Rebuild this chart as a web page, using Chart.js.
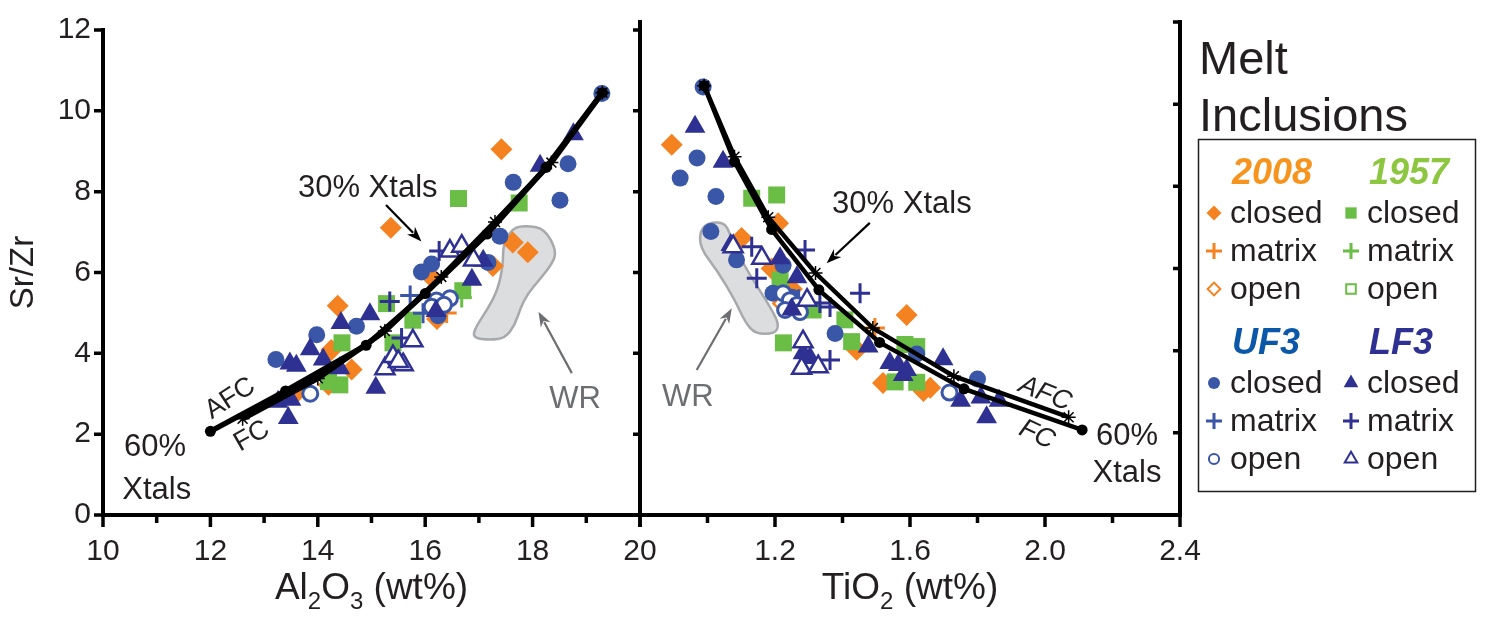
<!DOCTYPE html>
<html lang="en">
<head>
<meta charset="utf-8" />
<title>Sr/Zr vs Al2O3 and TiO2</title>
<script src="https://cdn.jsdelivr.net/npm/chart.js@4.4.4/dist/chart.umd.min.js"></script>
<style>
  html, body { margin: 0; padding: 0; background: #fff; overflow: hidden; }
  #wrap { position: relative; width: 1485px; height: 623px; }
  #left { position: absolute; left: 0; top: 0; }
  #right { position: absolute; left: 580px; top: 0; }
</style>
</head>
<body>
<div id="wrap">
  <canvas id="left" width="700" height="623"></canvas>
  <canvas id="right" width="905" height="623"></canvas>
</div>
<script>
// ---- axes ----
const srzrTicks = [0, 2, 4, 6, 8, 10, 12];
const alTicks = [10, 12, 14, 16, 18, 20];
const alMinor = [11, 13, 15, 17, 19];
const tiTicks = [0.8, 1.2, 1.6, 2.0, 2.4];
const tiMinor = [1.0, 1.4, 1.8, 2.2];

// ---- Al2O3 panel: melt inclusions [Al2O3, Sr/Zr] ----
const al2008Closed = [[13.62,3.05],[14.2,3.22],[14.25,4.08],[14.37,5.18],[14.63,3.6],[15.36,7.11],[16.12,5.88],[16.22,4.85],[17.26,6.16],[17.42,9.05],[17.63,6.74],[17.91,6.5]];
const al2008Matrix = [[16.4,5.0]];
const al2008Open = [[16.28,5.2]];
const al1957Closed = [[16.62,7.83],[17.75,7.72],[16.7,5.55],[15.28,5.23],[15.77,4.82],[15.4,4.26],[14.45,4.26],[14.2,3.3],[14.41,3.22]];
const al1957Matrix = [[16.68,5.38]];
const al1957Open = [];
const alUf3Closed = [[19.29,10.43],[18.66,8.69],[17.64,8.23],[18.51,7.79],[17.39,6.9],[17.17,6.25],[15.93,6.01],[16.12,6.21],[14.72,4.67],[13.98,4.46],[13.22,3.85],[16.24,4.93]];
const alUf3Matrix = [[15.72,5.43],[15.96,4.99]];
const alUf3Open = [[16.21,5.31],[16.46,5.36],[16.24,5.07],[16.12,5.15],[13.86,3.0],[16.35,5.2]];
const alLf3Closed = [[18.76,9.42],[18.14,8.64],[17.08,6.29],[16.87,5.82],[14.97,4.97],[14.43,4.75],[13.86,4.1],[13.48,3.75],[13.6,3.69],[14.41,3.63],[14.1,3.85],[15.08,3.15],[13.26,2.8],[13.5,2.85],[13.45,2.4],[16.2,5.05]];
const alLf3Matrix = [[16.26,6.53],[15.34,5.28],[15.56,4.38]];
const alLf3Open = [[16.46,6.53],[16.68,6.65],[16.9,6.31],[15.77,4.31],[15.25,3.62],[15.4,3.92],[15.59,3.72],[15.5,3.8]];

// crystallisation models, 0 -> 60 % crystals
const alFc = [[12.0,2.07],[13.4,3.07],[14.9,4.2],[16.0,5.48],[17.15,6.95],[18.25,8.6],[19.3,10.45]];
const alAfc = [[12.6,2.38],[14.0,3.38],[15.25,4.55],[16.3,5.89],[17.3,7.25],[18.35,8.72],[19.3,10.45]];
// whole-rock field outline
const alWr = [[17.63,7.11],[17.90,7.16],[18.23,7.08],[18.45,6.52],[18.36,6.21],[18.14,5.84],[17.91,5.48],[17.77,5.11],[17.67,4.70],[17.49,4.38],[17.21,4.33],[16.89,4.38],[16.93,4.63],[17.17,5.11],[17.36,5.60],[17.45,6.21],[17.45,6.69]];

// ---- TiO2 panel: melt inclusions [TiO2, Sr/Zr] ----
const ti2008Closed = [[0.894,9.01],[1.209,7.1],[1.101,6.74],[1.19,6.0],[1.59,4.87],[1.442,4.02],[1.52,3.21],[1.64,3.02],[1.66,3.1],[1.25,5.5],[1.235,5.3],[1.224,5.55]];
const ti2008Matrix = [[1.496,4.55],[1.24,5.2]];
const ti2008Open = [[1.225,5.15]];
const ti1957Closed = [[1.131,7.71],[1.205,7.79],[1.215,5.72],[1.225,4.19],[1.427,4.22],[1.585,4.15],[1.556,3.24],[1.62,3.23],[1.313,4.99],[1.62,4.1],[1.407,4.75]];
const ti1957Matrix = [[1.28,5.05]];
const ti1957Open = [];
const tiUf3Closed = [[0.987,10.42],[0.969,8.69],[0.919,8.2],[1.025,7.75],[1.01,6.9],[1.086,6.21],[1.224,6.08],[1.378,4.42],[1.62,3.92],[1.80,3.31],[1.25,5.3],[1.194,5.4]];
const tiUf3Matrix = [[1.27,5.25]];
const tiUf3Open = [[1.224,5.4],[1.244,5.23],[1.265,5.11],[1.23,4.99],[1.274,4.94],[1.717,2.98]];
const tiLf3Closed = [[0.963,9.45],[1.046,8.6],[1.069,6.57],[1.215,6.25],[1.265,5.79],[1.283,3.94],[1.304,3.82],[1.476,4.1],[1.54,3.7],[1.565,3.65],[1.59,3.53],[1.58,3.41],[1.698,3.79],[1.75,2.78],[1.81,2.86],[1.864,2.78],[1.827,2.38],[1.25,5.0]];
const tiLf3Matrix = [[1.131,6.53],[1.146,5.76],[1.289,6.45],[1.452,5.4],[1.363,3.77],[1.333,5.16],[1.363,5.06]];
const tiLf3Open = [[1.076,6.53],[1.161,6.25],[1.283,4.22],[1.279,3.57],[1.328,3.61],[1.295,5.23]];

const tiFc = [[0.99,10.45],[1.08,8.6],[1.19,6.95],[1.33,5.48],[1.51,4.2],[1.76,3.07],[2.11,2.07]];
const tiAfc = [[0.99,10.45],[1.08,8.72],[1.18,7.25],[1.32,5.89],[1.49,4.55],[1.73,3.38],[2.07,2.38]];
const tiWr = [[0.978,6.94],[1.007,7.13],[1.052,7.11],[1.067,6.82],[1.102,6.16],[1.150,5.53],[1.191,4.99],[1.212,4.63],[1.200,4.41],[1.141,4.41],[1.111,4.70],[1.081,5.23],[1.031,5.92],[0.978,6.50]];

const FONT = "'Liberation Sans', Arial, sans-serif";
const INK = '#231f20';
const GREY = '#6d6e71';
const ORANGE = '#f58220', GREEN = '#6abd45', BLUE = '#3a56a7', NAVY = '#2e3192';

// marker look for each inclusion type
const STYLES = {
  '2008 closed': { pointStyle: 'rectRot', pointRadius: 11, pointBackgroundColor: ORANGE, pointBorderWidth: 0 },
  '2008 matrix': { pointStyle: 'cross', pointRadius: 10, pointBorderColor: ORANGE, pointBorderWidth: 3 },
  '2008 open':   { pointStyle: 'rectRot', pointRadius: 10, pointBackgroundColor: '#fff', pointBorderColor: ORANGE, pointBorderWidth: 2.5 },
  '1957 closed': { pointStyle: 'rect', pointRadius: 12, pointBackgroundColor: GREEN, pointBorderWidth: 0 },
  '1957 matrix': { pointStyle: 'cross', pointRadius: 10, pointBorderColor: GREEN, pointBorderWidth: 3 },
  '1957 open':   { pointStyle: 'rect', pointRadius: 11, pointBackgroundColor: '#fff', pointBorderColor: GREEN, pointBorderWidth: 2.5 },
  'UF3 closed':  { pointStyle: 'circle', pointRadius: 8.5, pointBackgroundColor: BLUE, pointBorderWidth: 0 },
  'UF3 matrix':  { pointStyle: 'cross', pointRadius: 10, pointBorderColor: BLUE, pointBorderWidth: 3 },
  'UF3 open':    { pointStyle: 'circle', pointRadius: 7.5, pointBackgroundColor: '#fff', pointBorderColor: BLUE, pointBorderWidth: 3 },
  'LF3 closed':  { pointStyle: 'triangle', pointRadius: 12, pointBackgroundColor: NAVY, pointBorderWidth: 0 },
  'LF3 matrix':  { pointStyle: 'cross', pointRadius: 10, pointBorderColor: NAVY, pointBorderWidth: 3 },
  'LF3 open':    { pointStyle: 'triangle', pointRadius: 11, pointBackgroundColor: '#fff', pointBorderColor: NAVY, pointBorderWidth: 2.5 }
};

// smaller copies of the markers for the key
const KEY_SIZE = {
  rectRot: 7.5, rect: 8, circle: 6, triangle: 8.5, cross: 8
};

const toXY = arr => arr.map(([x, y]) => ({ x, y }));

function inclusions(sets) {
  return Object.keys(sets).map((key, i) => Object.assign({
    label: key, data: toXY(sets[key]), showLine: false, order: 20 - i
  }, STYLES[key]));
}

function models(fc, afc, width) {
  return [
    { label: 'FC', data: toXY(fc), showLine: true, borderColor: '#000', borderWidth: width,
      pointStyle: 'circle', pointRadius: 5.5, pointBackgroundColor: '#000', pointBorderWidth: 0, order: 1 },
    { label: 'AFC', data: toXY(afc), showLine: true, borderColor: '#000', borderWidth: width,
      pointStyle: 'star', pointRadius: 7, pointBorderColor: '#000', pointBorderWidth: 1.5, order: 0 }
  ];
}

// smooth closed outline through the midpoints of the vertices
function smoothField(ctx, pts) {
  const n = pts.length;
  const mid = (a, b) => [(a[0] + b[0]) / 2, (a[1] + b[1]) / 2];
  let m = mid(pts[n - 1], pts[0]);
  ctx.beginPath();
  ctx.moveTo(m[0], m[1]);
  for (let i = 0; i < n; i++) {
    const next = mid(pts[i], pts[(i + 1) % n]);
    ctx.quadraticCurveTo(pts[i][0], pts[i][1], next[0], next[1]);
  }
  ctx.closePath();
}

function arrow(ctx, x1, y1, x2, y2, color) {
  const ang = Math.atan2(y2 - y1, x2 - x1);
  const len = 15, half = 5.5;
  ctx.strokeStyle = color; ctx.fillStyle = color; ctx.lineWidth = 2.2;
  ctx.beginPath();
  ctx.moveTo(x1, y1);
  ctx.lineTo(x2 - Math.cos(ang) * len * 0.8, y2 - Math.sin(ang) * len * 0.8);
  ctx.stroke();
  ctx.beginPath();
  ctx.moveTo(x2, y2);
  ctx.lineTo(x2 - Math.cos(ang) * len - Math.sin(ang) * half, y2 - Math.sin(ang) * len + Math.cos(ang) * half);
  ctx.lineTo(x2 - Math.cos(ang) * len * 0.7, y2 - Math.sin(ang) * len * 0.7);
  ctx.lineTo(x2 - Math.cos(ang) * len + Math.sin(ang) * half, y2 - Math.sin(ang) * len - Math.cos(ang) * half);
  ctx.closePath();
  ctx.fill();
}

// text with subscript pieces, centred on cx
function subText(ctx, parts, cx, base, size) {
  const big = `${size}px ${FONT}`, small = `${Math.round(size * 0.66)}px ${FONT}`;
  let w = 0;
  parts.forEach(([t, sub]) => { ctx.font = sub ? small : big; w += ctx.measureText(t).width; });
  let x = cx - w / 2;
  ctx.textAlign = 'left'; ctx.textBaseline = 'alphabetic'; ctx.fillStyle = INK;
  parts.forEach(([t, sub]) => {
    ctx.font = sub ? small : big;
    ctx.fillText(t, x, sub ? base + size * 0.28 : base);
    x += ctx.measureText(t).width;
  });
}

function panelPlugin(p) {
  return {
    id: 'panel',
    beforeDatasetsDraw(chart) {
      const { ctx, scales: { x, y } } = chart;
      ctx.save();
      smoothField(ctx, p.wr.map(([a, b]) => [x.getPixelForValue(a), y.getPixelForValue(b)]));
      ctx.fillStyle = '#dcddde';
      ctx.fill();
      ctx.lineWidth = 2.5; ctx.strokeStyle = '#a7a9ac';
      ctx.stroke();
      ctx.restore();
    },
    afterDraw(chart) {
      const { ctx, chartArea: a, scales: { x, y } } = chart;
      ctx.save();
      // frame
      ctx.strokeStyle = '#000'; ctx.lineWidth = 4; ctx.lineCap = 'square';
      ctx.beginPath();
      ctx.moveTo(a.left, a.top); ctx.lineTo(a.left, a.bottom);
      ctx.lineTo(a.right, a.bottom); ctx.lineTo(a.right, a.top);
      ctx.stroke();
      // tick marks
      ctx.lineWidth = 3.5; ctx.lineCap = 'butt';
      ctx.beginPath();
      p.xMajor.forEach(v => { const px = x.getPixelForValue(v); ctx.moveTo(px, a.bottom); ctx.lineTo(px, a.bottom + 12); });
      p.xMinor.forEach(v => { const px = x.getPixelForValue(v); ctx.moveTo(px, a.bottom); ctx.lineTo(px, a.bottom + 8); });
      srzrTicks.forEach(v => {
        const py = y.getPixelForValue(v);
        if (p.outerY) { ctx.moveTo(a.left, py); ctx.lineTo(a.left - 9, py); }
        ctx.moveTo(a.right, py); ctx.lineTo(a.right - 7, py);
      });
      ctx.stroke();
      // labels on the plot
      p.notes.forEach(n => {
        ctx.save();
        ctx.translate(x.getPixelForValue(n.x), y.getPixelForValue(n.y));
        ctx.rotate((n.rot || 0) * Math.PI / 180);
        ctx.font = `${n.italic ? 'italic ' : ''}${n.size || 31}px ${FONT}`;
        ctx.fillStyle = n.color || INK;
        ctx.textAlign = 'center'; ctx.textBaseline = 'middle';
        ctx.fillText(n.t, 0, 0);
        ctx.restore();
      });
      p.arrows.forEach(r => arrow(ctx, x.getPixelForValue(r.from[0]), y.getPixelForValue(r.from[1]),
        x.getPixelForValue(r.to[0]), y.getPixelForValue(r.to[1]), r.color || '#000'));
      // axis title with subscripts
      subText(ctx, p.title, (a.left + a.right) / 2, 599, 37);
      if (p.legend) p.legend(ctx);
      ctx.restore();
    }
  };
}

// ---- legend block to the right of the TiO2 panel ----
const legendGroups = [
  { name: '2008', color: '#f7941d', col: 0, row: 0 },
  { name: '1957', color: '#8dc63f', col: 1, row: 0 },
  { name: 'UF3', color: '#0b58a8', col: 0, row: 1 },
  { name: 'LF3', color: NAVY, col: 1, row: 1 }
];
const legendKinds = ['closed', 'matrix', 'open'];

function drawLegend(ctx, offset) {
  ctx.save();
  ctx.translate(-offset, 0);
  ctx.fillStyle = INK;
  ctx.textAlign = 'left'; ctx.textBaseline = 'alphabetic';
  ctx.font = `47px ${FONT}`;
  ctx.fillText('Melt', 1199, 74);
  ctx.fillText('Inclusions', 1199, 131);
  ctx.strokeStyle = INK; ctx.lineWidth = 1.5;
  ctx.strokeRect(1198.5, 139.5, 277, 352);
  legendGroups.forEach(g => {
    const x0 = g.col ? 1351 : 1214;
    const y0 = g.row ? 354 : 184;
    ctx.font = `italic bold 36px ${FONT}`;
    ctx.fillStyle = g.color;
    ctx.fillText(g.name, x0 + 18, y0);
    legendKinds.forEach((k, i) => {
      const yy = y0 + 39 + i * 38;
      const st = STYLES[g.name + ' ' + k];
      const open = st.pointBackgroundColor === '#fff';
      ctx.fillStyle = st.pointBackgroundColor || 'rgba(0,0,0,0)';
      ctx.strokeStyle = st.pointBorderColor || 'rgba(0,0,0,0)';
      ctx.lineWidth = st.pointStyle === 'cross' ? 3 : (open ? 2 : 0);
      Chart.helpers.drawPoint(ctx, {
        pointStyle: st.pointStyle, radius: KEY_SIZE[st.pointStyle] * (open ? 0.85 : 1), rotation: 0,
        borderWidth: ctx.lineWidth
      }, x0, yy - 10);
      ctx.fillStyle = INK;
      ctx.font = `32px ${FONT}`;
      ctx.fillText(k, x0 + 16, yy);
    });
  });
  ctx.restore();
}

function yAxis(show) {
  return {
    type: 'linear', min: 0, max: 12, display: show,
    afterBuildTicks: s => { s.ticks = srzrTicks.map(v => ({ value: v })); },
    afterFit: s => { s.width = show ? 103 : 0; },
    grid: { display: false, drawTicks: false },
    border: { display: false },
    ticks: { color: INK, font: { family: FONT, size: 30 }, padding: 12 },
    title: { display: true, text: 'Sr/Zr', color: INK, font: { family: FONT, size: 33 }, padding: { top: 4, bottom: 0 } }
  };
}

function xAxis(min, max, ticks, fmt) {
  return {
    type: 'linear', min, max,
    afterBuildTicks: s => { s.ticks = ticks.map(v => ({ value: v })); },
    afterFit: s => { s.height = 108; },
    grid: { display: false, drawTicks: false },
    border: { display: false },
    ticks: { color: INK, font: { family: FONT, size: 30 }, padding: 19, maxRotation: 0, callback: fmt }
  };
}

const common = {
  responsive: false, animation: false, devicePixelRatio: 1, events: [],
  plugins: { legend: { display: false }, tooltip: { enabled: false } }
};

new Chart(document.getElementById('left'), {
  type: 'scatter',
  data: {
    datasets: models(alFc, alAfc, 5.5).concat(inclusions({
      '2008 closed': al2008Closed, '2008 matrix': al2008Matrix, '2008 open': al2008Open,
      '1957 closed': al1957Closed, '1957 matrix': al1957Matrix, '1957 open': al1957Open,
      'UF3 closed': alUf3Closed, 'UF3 matrix': alUf3Matrix, 'UF3 open': alUf3Open,
      'LF3 closed': alLf3Closed, 'LF3 matrix': alLf3Matrix, 'LF3 open': alLf3Open
    }))
  },
  options: Object.assign({}, common, {
    layout: { padding: { top: 22, right: 60, left: 0, bottom: 0 } },
    scales: { x: xAxis(10, 20, alTicks, v => String(v)), y: yAxis(true) }
  }),
  plugins: [panelPlugin({
    wr: alWr, xMajor: alTicks, xMinor: alMinor, outerY: true,
    title: [['Al', false], ['2', true], ['O', false], ['3', true], [' (wt%)', false]],
    notes: [
      { t: '30% Xtals', x: 14.93, y: 8.08 },
      { t: '60%', x: 10.97, y: 1.66 },
      { t: 'Xtals', x: 11.0, y: 0.61 },
      { t: 'AFC', x: 12.37, y: 2.88, rot: -33, size: 27 },
      { t: 'FC', x: 12.77, y: 1.95, rot: -30, size: 27 },
      { t: 'WR', x: 18.79, y: 2.85, color: GREY }
    ],
    arrows: [
      { from: [15.27, 7.67], to: [15.93, 6.77] },
      { from: [18.73, 3.51], to: [18.11, 5.03], color: GREY }
    ]
  })]
});

new Chart(document.getElementById('right'), {
  type: 'scatter',
  data: {
    datasets: models(tiFc, tiAfc, 4.5).concat(inclusions({
      '2008 closed': ti2008Closed, '2008 matrix': ti2008Matrix, '2008 open': ti2008Open,
      '1957 closed': ti1957Closed, '1957 matrix': ti1957Matrix, '1957 open': ti1957Open,
      'UF3 closed': tiUf3Closed, 'UF3 matrix': tiUf3Matrix, 'UF3 open': tiUf3Open,
      'LF3 closed': tiLf3Closed, 'LF3 matrix': tiLf3Matrix, 'LF3 open': tiLf3Open
    }))
  },
  options: Object.assign({}, common, {
    layout: { padding: { top: 22, right: 305, left: 60, bottom: 0 } },
    scales: {
      x: xAxis(0.8, 2.4, tiTicks, v => (v < 0.9 ? '' : v.toFixed(1))),
      y: yAxis(false)
    }
  }),
  plugins: [panelPlugin({
    wr: tiWr, xMajor: tiTicks, xMinor: tiMinor, outerY: false,
    title: [['TiO', false], ['2', true], [' (wt%)', false]],
    notes: [
      { t: '30% Xtals', x: 1.576, y: 7.55 },
      { t: '60%', x: 2.243, y: 1.9 },
      { t: 'Xtals', x: 2.243, y: 1.0 },
      { t: 'AFC', x: 2.0, y: 2.95, rot: 22, italic: true, size: 27 },
      { t: 'FC', x: 1.976, y: 1.95, rot: 25, italic: true, size: 27 },
      { t: 'WR', x: 0.942, y: 2.85, color: GREY }
    ],
    arrows: [
      { from: [1.481, 7.11], to: [1.353, 6.13] },
      { from: [0.968, 3.53], to: [1.072, 5.03], color: GREY }
    ],
    legend: ctx => drawLegend(ctx, 580)
  })]
});
</script>
</body>
</html>
